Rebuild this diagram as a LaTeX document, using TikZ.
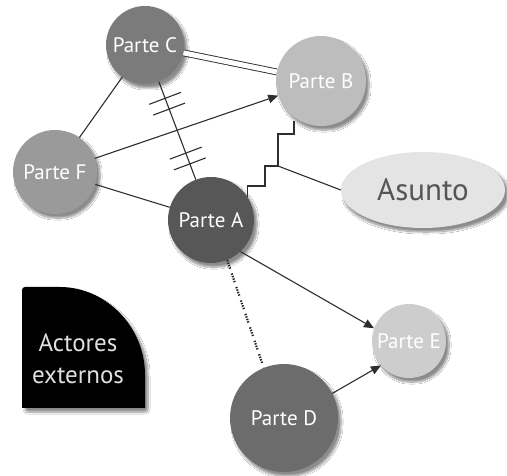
\documentclass[tikz,border=0pt]{standalone}
\usepackage{fontspec}
\setmainfont{PT Sans}
\usetikzlibrary{arrows.meta,shadows.blur,decorations.markings,shapes.geometric}

\definecolor{lineg}{HTML}{2E2E2E}
\definecolor{cC}{HTML}{7B7B7B}
\definecolor{cB}{HTML}{BDBDBD}
\definecolor{cF}{HTML}{9A9A9A}
\definecolor{cA}{HTML}{575757}
\definecolor{cD}{HTML}{6C6C6C}
\definecolor{cE}{HTML}{CDCDCD}
\definecolor{cS}{HTML}{E4E4E4}
\definecolor{txtS}{HTML}{555555}

\tikzset{
  soft/.style={blur shadow={shadow xshift=3pt, shadow yshift=-4pt,
      shadow blur steps=10, shadow blur extra rounding=3pt, shadow opacity=45}},
  party/.style={circle, inner sep=0pt, soft, text=white, font=\fontsize{21}{24}\selectfont},
  conn/.style={draw=lineg, line width=1.1pt},
  arr/.style={conn, -{Triangle[length=10pt,width=8.5pt]}},
  hashed/.style={conn, postaction={decorate}, decoration={markings,
      mark=at position 0.17 with {\draw[conn] (0,-17pt) -- (0,17pt);},
      mark=at position 0.28 with {\draw[conn] (0,-17pt) -- (0,17pt);},
      mark=at position 0.73 with {\draw[conn] (0,-17pt) -- (0,17pt);},
      mark=at position 0.84 with {\draw[conn] (0,-17pt) -- (0,17pt);}}},
  dotgroup/.style={draw=black!85, line width=2.2pt,
      dash pattern=on 1.4pt off 1.2pt on 1.4pt off 1.2pt on 1.4pt off 1.2pt on 1.4pt off 5pt},
}

\begin{document}
\begin{tikzpicture}[x=1pt, y=-1pt]
\useasboundingbox (0,0) rectangle (507,476);
\fill[white] (0,0) rectangle (507,476);

% external actors block
\fill[black, soft, rounded corners=3pt] (22,408) -- (22,287) -- (57,287)
  [sharp corners] .. controls (105.6,287) and (145,326.4) .. (145,375) -- (145,408) -- cycle;
\node[text=white!88!black, align=center, font=\fontsize{25}{32}\selectfont] (ext) at (78,359) {Actores\\externos};

% parties
\node[party, fill=cC, minimum size=78pt] (C) at (145,45) {Parte C};
\node[party, fill=cB, minimum size=90pt] (B) at (321,81) {Parte B};
\node[party, fill=cF, minimum size=84pt] (F) at (55,172) {Parte F};
\node[party, fill=cA, minimum size=86pt] (A) at (211,220) {Parte A};
\node[party, fill=cE, minimum size=74pt] (E) at (409,341) {Parte E};
\node[party, fill=cD, minimum size=108pt] (D) at (284,418) {Parte D};
\node[ellipse, inner sep=0pt, minimum width=164pt, minimum height=76pt, fill=cS, soft,
      text=txtS, font=\fontsize{31}{34}\selectfont] (S) at (423,190) {Asunto};

% connectors
\draw[conn, double=white, double distance=5pt, line width=0.9pt] (C) -- (B);
\draw[hashed] (C) -- (A);
\draw[conn] (F) -- (C);
\draw[arr] (F) -- (B);
\draw[conn] (F) -- (A);
\draw[arr] (A.-47) -- (E.160);
\draw[arr] (D.27) -- (E.221);
\draw[dotgroup] (A.-68) -- (D.112);

% stepped link between A and B, with a branch to the issue
\coordinate (bend) at (278,166);
\coordinate (Bfoot) at (294,121);
\draw[conn] (A.32) |- (265,186) |- (bend) |- (294,134) -- (Bfoot);
\draw[conn] (bend) -- (S.west);
\end{tikzpicture}
\end{document}
